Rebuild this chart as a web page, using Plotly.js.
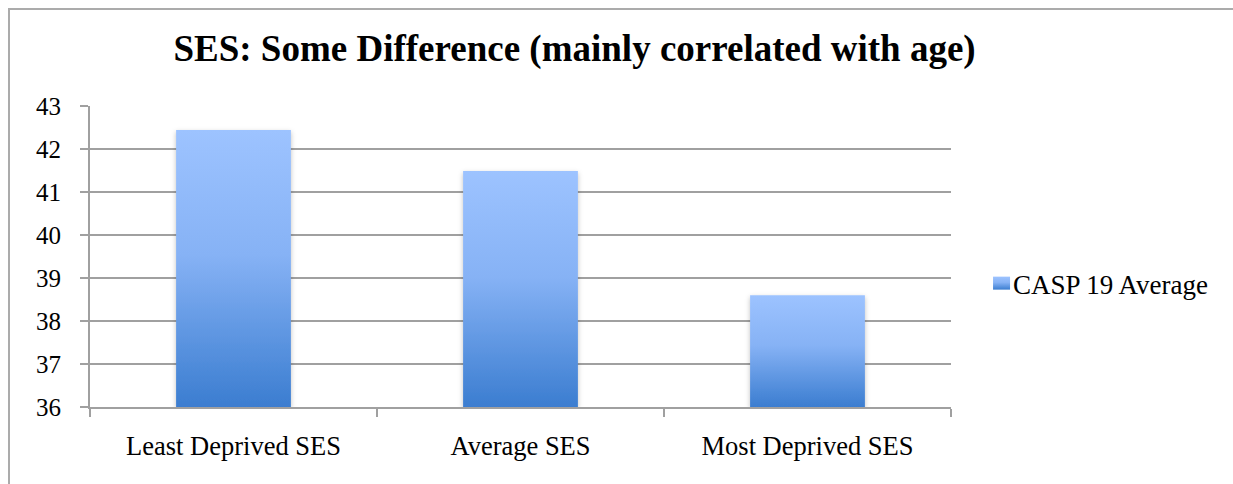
<!DOCTYPE html>
<html>
<head>
<meta charset="utf-8">
<script src="https://cdn.plot.ly/plotly-3.0.1.min.js"></script>
<style>
html,body{margin:0;padding:0;background:#fff;}
#wrap{position:relative;width:1233px;height:484px;overflow:hidden;}
#chart{position:absolute;left:0;top:0;width:1233px;height:484px;}
#frame{position:absolute;left:8px;top:8px;width:1300px;height:600px;border-left:2px solid #ababab;border-top:2px solid #ababab;pointer-events:none;}
</style>
</head>
<body>
<div id="wrap"><div id="chart"></div><div id="frame"></div></div>
<script>
var categories = ["Least Deprived SES", "Average SES", "Most Deprived SES"];
var seriesName = "CASP 19 Average";
var values = [42.44, 41.49, 38.60];
var yTicks = [36, 37, 38, 39, 40, 41, 42, 43];
var axisFloor = 36;

var font = "Liberation Serif";
var trace = {
  type: "bar",
  x: categories,
  y: values.map(function(v){ return v - axisFloor; }),
  base: axisFloor,
  name: seriesName,
  width: 0.4,
  marker: {color: "#6a9fe6", line: {width: 0}},
  showlegend: true,
  hoverinfo: "none"
};

var layout = {
  width: 1233, height: 484,
  margin: {l: 90, r: 282, t: 106, b: 77, pad: 0},
  paper_bgcolor: "#fff", plot_bgcolor: "#fff",
  font: {family: font, size: 26, color: "#000"},
  title: {
    text: "<b>SES: Some Difference (mainly correlated with age)</b>",
    font: {family: font, size: 37, color: "#000"},
    x: 0.466, xanchor: "center", y: 0.9, yanchor: "middle"
  },
  xaxis: {
    type: "category",
    showgrid: false, zeroline: false,
    showline: true, linecolor: "#a0a0a0", linewidth: 2,
    ticks: "outside", tickson: "boundaries", ticklen: 8, tickwidth: 2, tickcolor: "#a0a0a0",
    tickfont: {family: font, size: 26.5, color: "#000"},
    ticklabelstandoff: 14,
    range: [-0.5, 2.5]
  },
  yaxis: {
    range: [36, 43],
    tickvals: yTicks,
    ticktext: yTicks.map(String),
    showgrid: true, gridcolor: "#a0a0a0", gridwidth: 2,
    zeroline: false,
    showline: true, linecolor: "#a0a0a0", linewidth: 2,
    ticks: "outside", ticklen: 8, tickwidth: 2, tickcolor: "#a0a0a0",
    tickfont: {family: font, size: 25, color: "#000"},
    ticklabelstandoff: 14
  },
  legend: {
    x: 1.0256, xanchor: "left", y: 0.41, yanchor: "middle",
    font: {family: font, size: 27, color: "#000"},
    bgcolor: "rgba(0,0,0,0)", itemwidth: 30
  },
  showlegend: true
};

Plotly.newPlot("chart", [trace], layout, {staticPlot: true, displayModeBar: false}).then(function(gd){
  var svg = gd.querySelector("svg.main-svg");
  var ns = "http://www.w3.org/2000/svg";
  var defs = svg.querySelector("defs") || svg.insertBefore(document.createElementNS(ns, "defs"), svg.firstChild);
  var grad = document.createElementNS(ns, "linearGradient");
  grad.setAttribute("id", "barGrad");
  grad.setAttribute("x1", "0"); grad.setAttribute("y1", "0");
  grad.setAttribute("x2", "0"); grad.setAttribute("y2", "1");
  [["0%", "#9dc3ff"], ["45%", "#86b2f5"], ["100%", "#3b7dd0"]].forEach(function(s){
    var st = document.createElementNS(ns, "stop");
    st.setAttribute("offset", s[0]); st.setAttribute("stop-color", s[1]);
    grad.appendChild(st);
  });
  defs.appendChild(grad);
  var filt = document.createElementNS(ns, "filter");
  filt.setAttribute("id", "barShadow");
  filt.setAttribute("x", "-20%"); filt.setAttribute("y", "-20%");
  filt.setAttribute("width", "140%"); filt.setAttribute("height", "140%");
  var ds = document.createElementNS(ns, "feDropShadow");
  ds.setAttribute("dx", "0"); ds.setAttribute("dy", "2");
  ds.setAttribute("stdDeviation", "2.5");
  ds.setAttribute("flood-color", "#000"); ds.setAttribute("flood-opacity", "0.25");
  filt.appendChild(ds);
  defs.appendChild(filt);
  gd.querySelectorAll(".bars .point path").forEach(function(p){
    p.style.fill = "url(#barGrad)";
    p.setAttribute("filter", "url(#barShadow)");
  });
  gd.querySelectorAll(".legend .legendpoints path").forEach(function(p){
    p.style.fill = "url(#barGrad)";
    p.setAttribute("d", "M0,6.5h17v-13h-17Z");
  });
});
</script>
</body>
</html>
